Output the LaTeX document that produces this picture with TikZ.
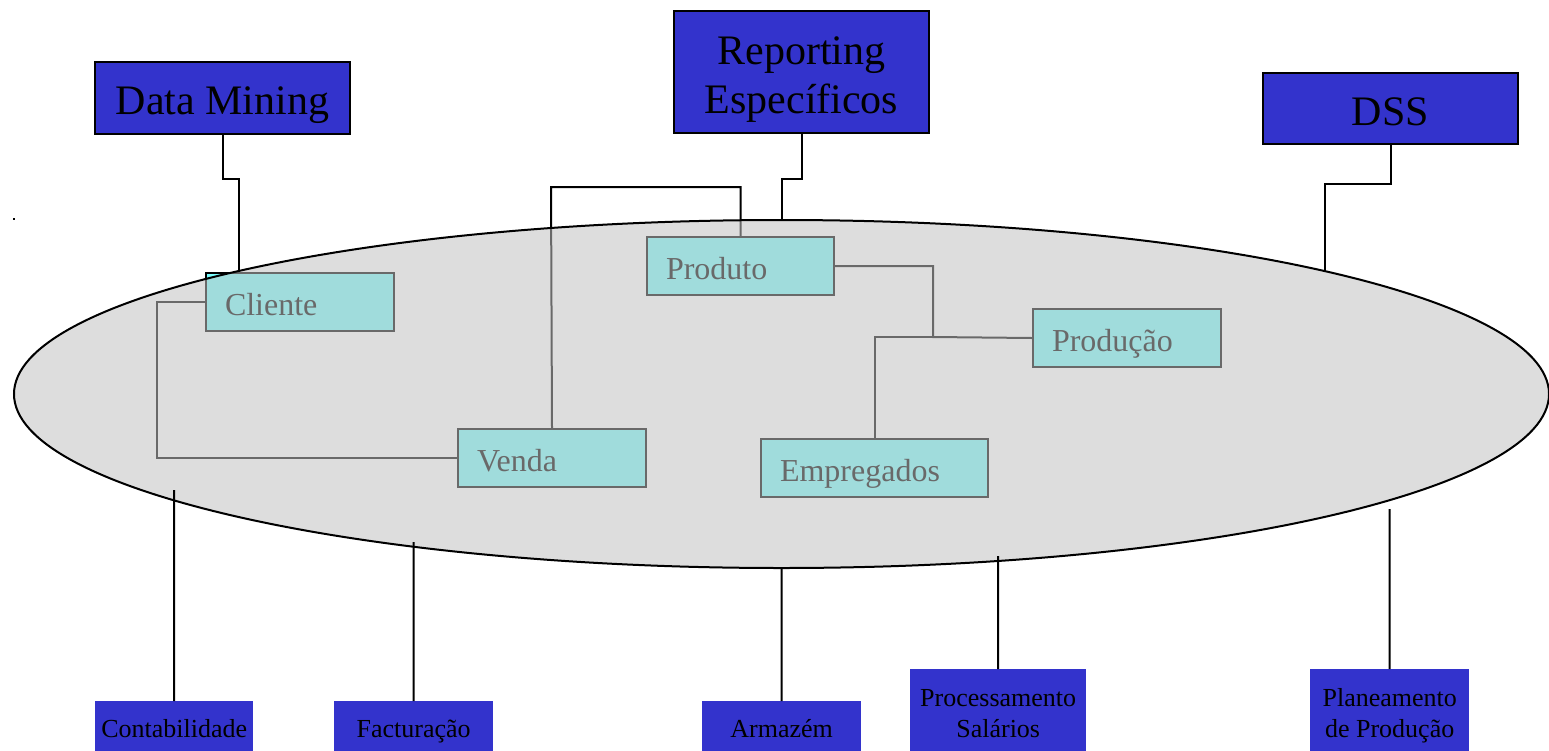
\documentclass[tikz,border=0pt]{standalone}
\usepackage{fontspec}
\setmainfont{Liberation Serif}
\definecolor{bluebox}{RGB}{51,51,204}
\definecolor{cyanbox}{RGB}{120,255,255}
\definecolor{storegray}{RGB}{193,193,193}
\begin{document}
\begin{tikzpicture}[x=1pt,y=-1pt,
  topbox/.style={draw=black, line width=2pt, fill=bluebox, align=center, inner sep=0pt, anchor=north west, text height=33pt, text depth=0pt, font=\fontsize{42}{49}\selectfont},
  botbox/.style={fill=bluebox, align=center, inner sep=0pt, anchor=north west, text height=21.5pt, text depth=0pt, font=\fontsize{26}{31}\selectfont},
  entbox/.style={draw=black, line width=2pt, fill=cyanbox, align=left, inner xsep=19pt, inner ysep=0pt, anchor=north west, minimum height=58pt, text height=26pt, text depth=0pt, font=\fontsize{32}{38}\selectfont},
  link/.style={draw=black, line width=2pt},
  store/.style={draw=black, line width=2pt, fill=storegray, fill opacity=0.55}]
\useasboundingbox (0,0) rectangle (1549,750);

% entity boxes (under the translucent store)
\node[entbox, text width=150pt] (cli) at (205,272) {Cliente};
\node[entbox, text width=149pt] (prod) at (646,236) {Produto};
\node[entbox, text width=150pt] (pdc) at (1032,308) {Produção};
\node[entbox, text width=150pt] (ven) at (457,428) {Venda};
\node[entbox, text width=189pt] (emp) at (760,438) {Empregados};

% top boxes
\node[topbox, minimum width=255pt, minimum height=72pt] (dm) at (94,61) {Data Mining};
\node[topbox, text height=82pt, minimum width=255pt, minimum height=122pt] (rep) at (673,10) {Reporting\\Específicos};
\node[topbox, minimum width=255pt, minimum height=71pt] (dss) at (1262,72) {DSS};

% links under the store
\draw[link] (cli.west) -- ++(-48,0) |- (ven.west);
\coordinate (vp) at (551,187);
\draw[link] (ven.north) -- (vp) -| (prod.north);
\coordinate (j) at (933,337);
\draw[link] (prod.east) -| (j) -- (pdc.west);
\draw[link] (emp.north) |- (j);
\draw[link] (dm.south) -- ++(0,44) -| ([xshift=34pt]cli.north west);

% the store
\draw[store] (781.5,394) ellipse [x radius=767.5, y radius=174];

% links over the store
\coordinate (rtop) at (782,220);
\draw[link] (rep.south) -- ++(0,45) -| (rtop);
\coordinate (dend) at (1325,272);
\draw[link] (dss.south) -- ++(0,39) -| (dend);

% bottom boxes
\node[botbox, minimum width=158pt, minimum height=52pt] (con) at (95,701) {Contabilidade};
\node[botbox, minimum width=159pt, minimum height=52pt] (fac) at (334,701) {Facturação};
\node[botbox, minimum width=159pt, minimum height=52pt] (arm) at (702,701) {Armazém};
\node[botbox, text height=52pt, minimum width=176pt, minimum height=84pt] (pro) at (910,669) {Processamento\\Salários};
\node[botbox, text height=52pt, minimum width=159pt, minimum height=84pt] (pla) at (1310,669) {Planeamento\\de Produção};

\coordinate (b1) at (174,490);
\coordinate (b2) at (413.5,542);
\coordinate (b3) at (781.5,568);
\coordinate (b4) at (998,556);
\coordinate (b5) at (1389.5,509);
\draw[link] (b1) -- (con.north);
\draw[link] (b2) -- (fac.north);
\draw[link] (b3) -- (arm.north);
\draw[link] (b4) -- (pro.north);
\draw[link] (b5) -- (pla.north);

% stray mark
\coordinate (m1) at (13,219);
\coordinate (m2) at (15,219);
\draw[line width=1.5pt] (m1) -- (m2);
\end{tikzpicture}
\end{document}
